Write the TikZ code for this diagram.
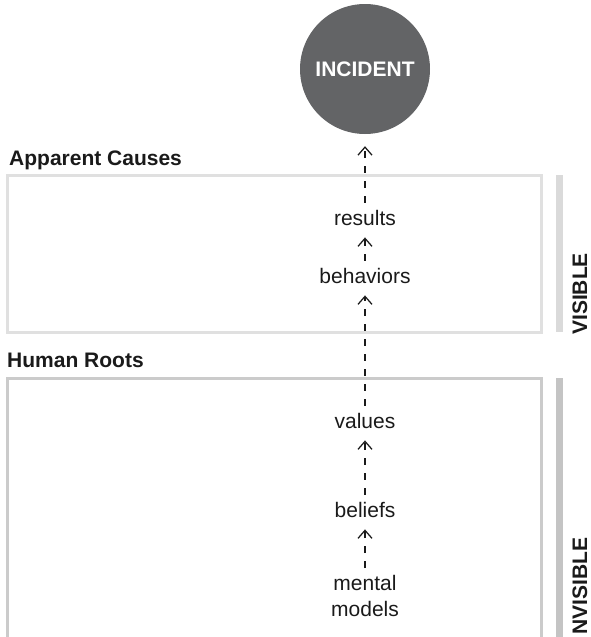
\documentclass[tikz,border=0pt]{standalone}
\usepackage{fontspec}
\setmainfont{Liberation Sans}
\usetikzlibrary{arrows.meta}
\definecolor{incfill}{HTML}{636466}
\definecolor{inkc}{HTML}{1A1A1A}
\definecolor{topedge}{HTML}{E0E0E0}
\definecolor{topbar}{HTML}{DADADA}
\definecolor{lowedge}{HTML}{CBCBCB}
\definecolor{lowbar}{HTML}{C4C4C4}
\begin{document}
\begin{tikzpicture}[x=1pt,y=-1pt,
  word/.style={inner sep=0pt, text=inkc, font=\fontsize{21}{26}\selectfont, align=center},
  heading/.style={inner sep=0pt, text=inkc, font=\fontsize{21}{26}\selectfont\bfseries, anchor=base west},
  sidetag/.style={inner sep=0pt, text=inkc, font=\fontsize{21}{26}\selectfont\bfseries, rotate=90, anchor=base west},
  link/.style={draw=inkc, line width=1.25pt, dash pattern=on 7pt off 8pt,
    -{Straight Barb[length=8pt,width=14pt]}, shorten <=7pt, shorten >=12pt}]
\useasboundingbox (0,0) rectangle (590,637);

% panels and side bars
\draw[topedge, line width=3pt] (7.5,175) rectangle (541.5,332);
\fill[topbar] (556,175) rectangle (563,332);
\draw[lowedge, line width=3pt] (7.5,378) rectangle (541.5,660);
\fill[lowbar] (556,378) rectangle (563,640);

% headings
\node[heading] (causes) at (9,165) {Apparent Causes};
\node[heading] (roots) at (7,367) {Human Roots};
\node[sidetag] (visible) at (587,335) {VISIBLE};
\node[sidetag] (invisible) at (587,635) {NVISIBLE};

% the incident
\node[circle, fill=incfill, minimum size=130pt, inner sep=0pt, text=white,
  font=\fontsize{21}{26}\selectfont\bfseries] (incident) at (365,69) {INCIDENT};

% chain of causes
\node[word, anchor=base] (results) at (365,225) {results};
\node[word, anchor=base] (behaviors) at (365,283) {behaviors};
\node[word, anchor=base] (values) at (365,428) {values};
\node[word, anchor=base] (beliefs) at (365,517) {beliefs};
\node[word] (models) at (365,596) {mental\\models};

\draw[link] (results.north) -- (incident.south);
\draw[link] (behaviors.north) -- (results.south);
\draw[link] (values.north) -- (behaviors.south);
\draw[link] (beliefs.north) -- (values.south);
\draw[link] (models.north) -- (beliefs.south);
\end{tikzpicture}
\end{document}
